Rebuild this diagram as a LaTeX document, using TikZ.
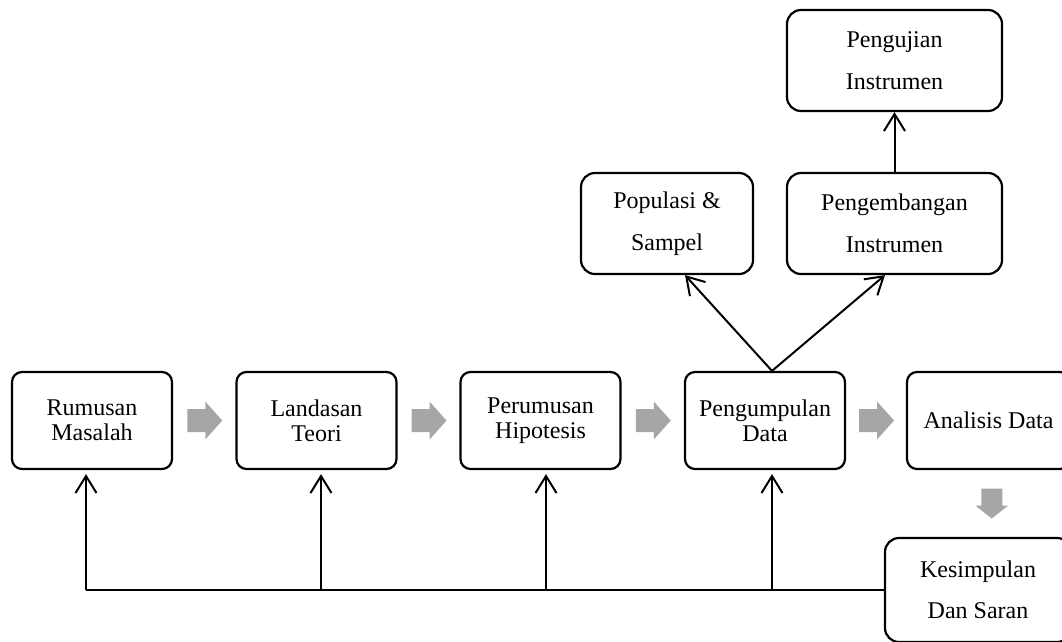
\documentclass[tikz,border=0pt]{standalone}
\usepackage{fontspec}
\setmainfont{Liberation Serif}
\usetikzlibrary{arrows.meta,calc}
\definecolor{arrowgray}{RGB}{166,166,166}
\tikzset{
  box/.style={draw, line width=2.2pt, rounded corners=10pt, minimum width=160pt,
    minimum height=97pt, align=center, inner sep=0pt, font=\fontsize{24}{25}\selectfont},
  tallbox/.style={box, rounded corners=14pt, minimum height=101pt,
    font=\fontsize{24}{41.5}\selectfont},
  arr/.style={line width=2pt, -{Straight Barb[length=17pt,width=21pt]}},
  feedline/.style={line width=1.5pt},
  nextstep/.pic={\fill[arrowgray] (-17,-11.5) -- (1,-11.5) -- (1,-19) -- (18,0)
    -- (1,19) -- (1,11.5) -- (-17,11.5) -- cycle;},
  downstep/.pic={\fill[arrowgray] (-10.5,-15) -- (10.5,-15) -- (10.5,2) -- (16.5,2)
    -- (0,15) -- (-16.5,2) -- (-10.5,2) -- cycle;}
}
\begin{document}
\begin{tikzpicture}[x=1pt, y=-1pt]
  \clip (0,0) rectangle (1062,641);
  % Main row
  \node[box] (rm) at (92,420.5) {Rumusan\\Masalah};
  \node[box] (lt) at (316.5,420.5) {Landasan\\Teori};
  \node[box] (ph) at (540.5,420.5) {Perumusan\\Hipotesis};
  \node[box] (pd) at (765,420.5) {Pengumpulan\\Data};
  \node[box, minimum width=163pt] (ad) at (988.5,420.5) {Analisis Data};
  \node[tallbox, minimum width=186pt, minimum height=104pt] (ks) at (978,590)
    {Kesimpulan\\Dan Saran};
  % Upper boxes
  \node[tallbox, minimum width=172pt] (ps) at (667,223.5) {Populasi \&\\Sampel};
  \node[tallbox, minimum width=215pt] (pi) at (894.5,223.5) {Pengembangan\\Instrumen};
  \node[tallbox, minimum width=215pt] (ui) at (894.5,60.5) {Pengujian\\Instrumen};
  % Gray step arrows
  \pic at ($(rm.east)!0.5!(lt.west)$) {nextstep};
  \pic at ($(lt.east)!0.5!(ph.west)$) {nextstep};
  \pic at ($(ph.east)!0.5!(pd.west)$) {nextstep};
  \pic at ($(pd.east)!0.5!(ad.west)$) {nextstep};
  \pic at ($(ad.south)!0.5!(ks.north)+(8.5,0)$) {downstep};
  % Branches from data collection
  \coordinate (split) at ($(pd.north)+(7,0)$);
  \draw[arr] (split) -- ($(ps.south)+(18,0)$);
  \draw[arr] (split) -- ($(pi.south)+(-9.5,0)$);
  \draw[arr] (pi.north) -- (ui.south);
  % Feedback line
  \coordinate (b1) at (86,590);
  \coordinate (b2) at (321,590);
  \coordinate (b3) at (546,590);
  \coordinate (b4) at (772,590);
  \draw[feedline] (b1) -- (ks.west);
  \draw[arr, shorten >=4pt] (b1) -- (b1 |- rm.south);
  \draw[arr, shorten >=4pt] (b2) -- (b2 |- lt.south);
  \draw[arr, shorten >=4pt] (b3) -- (b3 |- ph.south);
  \draw[arr, shorten >=4pt] (b4) -- (b4 |- pd.south);
\end{tikzpicture}
\end{document}
